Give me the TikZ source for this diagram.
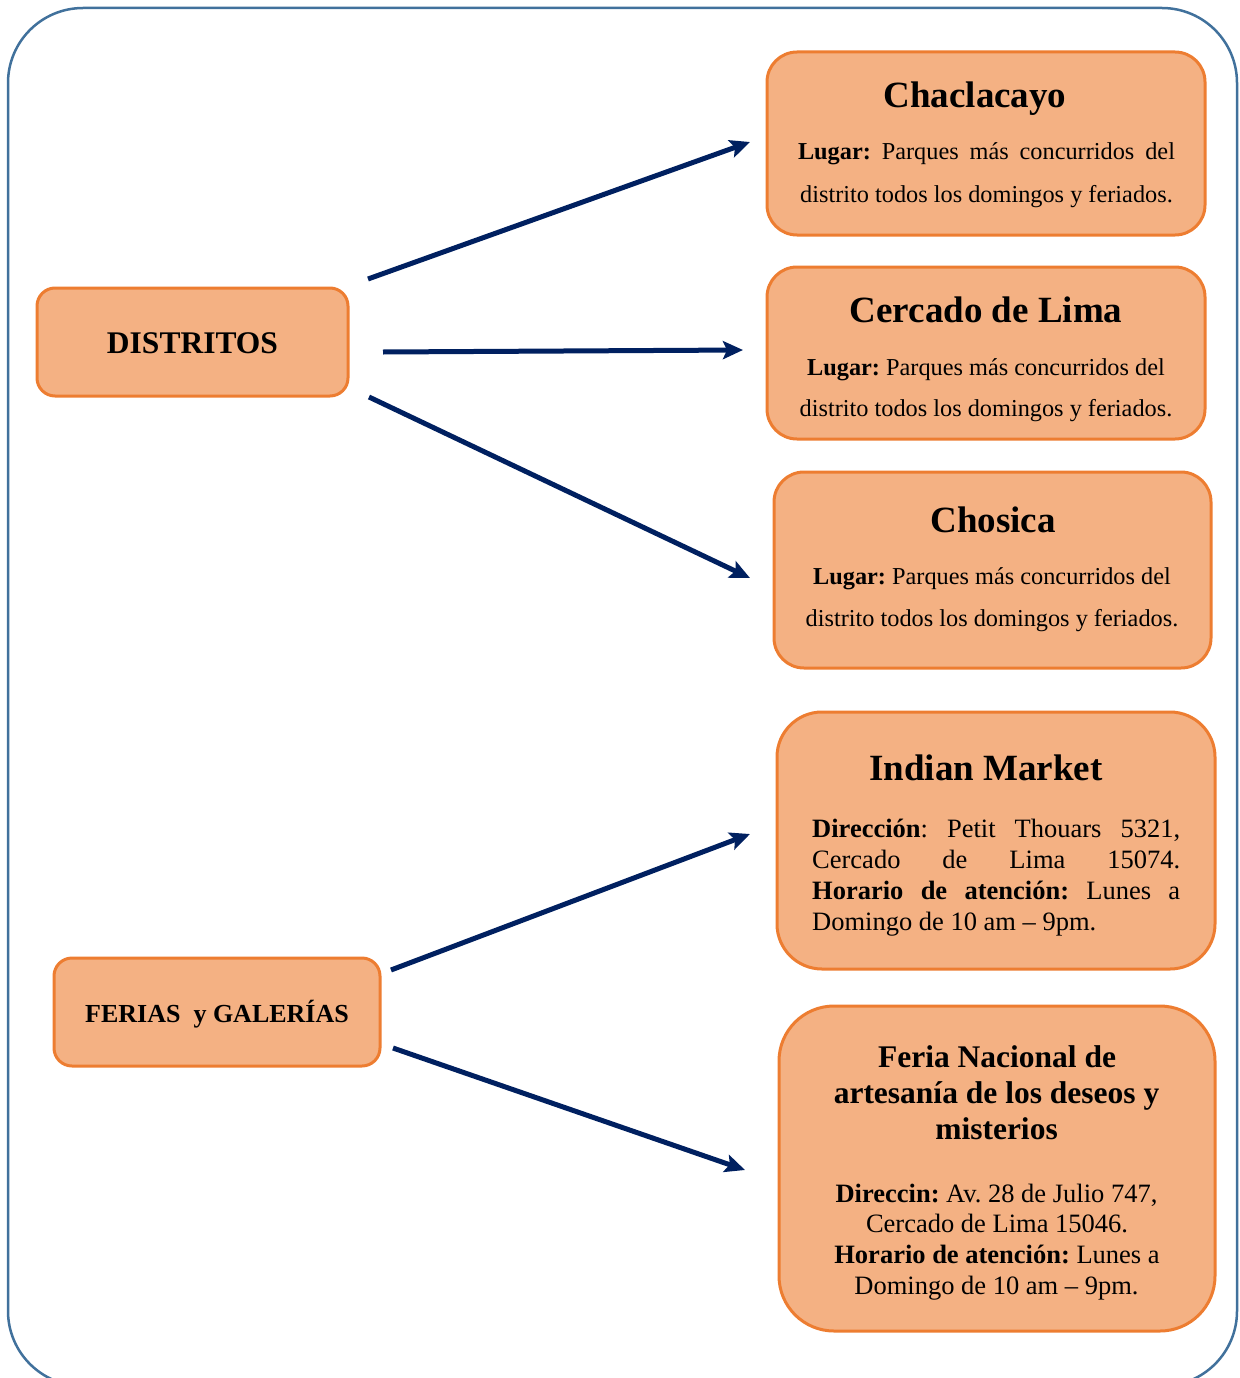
\documentclass[tikz,border=0pt]{standalone}
\usepackage{fontspec}
\setmainfont{Liberation Serif}
\usetikzlibrary{arrows.meta}
\definecolor{boxfill}{HTML}{F4B183}
\definecolor{boxline}{HTML}{ED7D31}
\definecolor{navy}{HTML}{002060}
\definecolor{outerline}{HTML}{41719C}
\frenchspacing
\tikzset{
  box/.style={draw=boxline, fill=boxfill, line width=3pt, rounded corners=#1, inner sep=0pt, rectangle},
  arr/.style={draw=navy, line width=5pt, -{Stealth[length=20pt,width=18pt,inset=4pt]}},
  ttl/.style={anchor=base, inner sep=0pt, font={\fontsize{37}{44}\selectfont\bfseries}},
  ttlb/.style={anchor=base, inner sep=0pt, font={\fontsize{31.5}{36}\selectfont\bfseries}},
  bodys/.style={anchor=base, inner sep=0pt, font={\fontsize{24.3}{30}\selectfont}},
  bodyl/.style={anchor=base, inner sep=0pt, font={\fontsize{26.5}{31}\selectfont}},
  bodylw/.style={anchor=base west, inner sep=0pt, font={\fontsize{26.5}{31}\selectfont}},
  lbl/.style={anchor=base, inner sep=0pt, font={\fontsize{#1}{36}\selectfont\bfseries}},
}
\begin{document}
\begin{tikzpicture}[x=1pt,y=-1pt]
\useasboundingbox (0,0) rectangle (1239,1378);
\clip (0,0) rectangle (1239,1378);
% outer frame
\draw[outerline, line width=2.5pt, rounded corners=75pt] (8,8) rectangle (1237,1386);

% left boxes
\node[box=18pt, minimum width=311pt, minimum height=108pt] (distritos) at (192.5,342) {};
\node[lbl=31.5] (distritosT) at (192.5,353) {DISTRITOS};
\node[box=18pt, minimum width=326pt, minimum height=108pt] (ferias) at (217,1012) {};
\node[lbl=26] (feriasT) at (217,1022) {FERIAS\ \ y GALERÍAS};

% Chaclacayo
\node[box=30pt, minimum width=438pt, minimum height=183pt] (chac) at (986,143.5) {};
\node[ttl] (chacT) at (975,108) {Chaclacayo};
\node[bodys] (chacL1) at (986.5,160) {\makebox[377pt][s]{\textbf{Lugar:} Parques más concurridos del}};
\node[bodys] (chacL2) at (986.5,202) {distrito todos los domingos y feriados.};

% Cercado de Lima
\node[box=30pt, minimum width=438pt, minimum height=172pt] (cerc) at (986,353) {};
\node[ttl] (cercT) at (986,322) {Cercado de Lima};
\node[bodys] (cercL1) at (986,375) {\textbf{Lugar:} Parques más concurridos del};
\node[bodys] (cercL2) at (986,416) {distrito todos los domingos y feriados.};

% Chosica
\node[box=30pt, minimum width=437pt, minimum height=196pt] (chos) at (992.5,570) {};
\node[ttl] (chosT) at (993,532) {Chosica};
\node[bodys] (chosL1) at (992,584) {\textbf{Lugar:} Parques más concurridos del};
\node[bodys] (chosL2) at (992,626) {distrito todos los domingos y feriados.};

% Indian Market
\node[box=45pt, minimum width=438pt, minimum height=257pt] (indian) at (996,840.5) {};
\node[ttl] (indianT) at (986,780) {Indian Market};
\node[bodylw] (indL1) at (812,837) {\makebox[368pt][s]{\textbf{Dirección}: Petit Thouars 5321,}};
\node[bodylw] (indL2) at (812,868) {\makebox[368pt][s]{Cercado de Lima 15074.}};
\node[bodylw] (indL3) at (812,899) {\makebox[368pt][s]{\textbf{Horario de atención:} Lunes a}};
\node[bodylw] (indL4) at (812,930) {Domingo de 10 am – 9pm.};

% Feria Nacional
\node[box=55pt, minimum width=436pt, minimum height=325pt] (feria) at (997,1168.5) {};
\node[ttlb] (feriaT1) at (997,1067) {Feria Nacional de};
\node[ttlb] (feriaT2) at (996.5,1103) {artesanía de los deseos y};
\node[ttlb] (feriaT3) at (996.5,1139) {misterios};
\node[bodyl] (ferL1) at (996.5,1202) {\textbf{Direccin:} Av. 28 de Julio 747,};
\node[bodyl] (ferL2) at (997,1232) {Cercado de Lima 15046.};
\node[bodyl] (ferL3) at (997,1263) {\textbf{Horario de atención:} Lunes a};
\node[bodyl] (ferL4) at (996.5,1294) {Domingo de 10 am – 9pm.};

% connector ends
\coordinate (a1s) at (368,279);  \coordinate (a1e) at (750,142);
\coordinate (a2s) at (383,352);  \coordinate (a2e) at (743,350);
\coordinate (a3s) at (369,397);  \coordinate (a3e) at (750,578);
\coordinate (a4s) at (391,970);  \coordinate (a4e) at (750,834);
\coordinate (a5s) at (393,1048); \coordinate (a5e) at (745,1170);
\draw[arr] (a1s) -- (a1e);
\draw[arr] (a2s) -- (a2e);
\draw[arr] (a3s) -- (a3e);
\draw[arr] (a4s) -- (a4e);
\draw[arr] (a5s) -- (a5e);
\end{tikzpicture}
\end{document}
